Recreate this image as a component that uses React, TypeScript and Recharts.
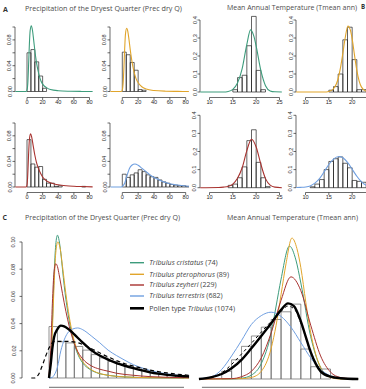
import React from 'react';
import { ComposedChart, Line, XAxis, YAxis, ReferenceArea, ReferenceLine } from 'recharts';

type Pt = [number, number];

// ---------- colours ----------
const GREEN = '#3d9c7c';
const YELLOW = '#e1a52b';
const RED = '#a8322f';
const BLUE = '#6f9fe0';
const INK = '#2b2b2b';
const TICK_FONT = '"Liberation Sans", Arial, sans-serif';
const TITLE_FONT = '"Open Sans", "Noto Sans", sans-serif';

// ---------- axis ticks ----------
const PREC_X_TICKS = [0, 20, 40, 60, 80];
const TMEAN_X_TICKS = [10, 15, 20, 25];
const TMEAN_X_TICKS_EDGE = [10, 15, 20];
const PREC_Y_TICKS = [0, 0.02, 0.04, 0.06, 0.08, 0.1];
const PREC_Y_LABELS = [0, 0.04, 0.08];
const TMEAN_Y_TICKS = [0, 0.1, 0.2, 0.3, 0.4];
const POLLEN_PREC_Y_LABELS = [0, 0.02, 0.04, 0.06, 0.08, 0.1];

// ---------- legend ----------
const SPECIES = ['cristatus', 'pterophorus', 'zeyheri', 'terrestris'];
const SPECIES_COUNTS = [74, 89, 229, 682];
const POLLEN_COUNT = 1074;

// ---------- histograms (density per bin) ----------
const PREC_BIN_WIDTH = 5;
const TMEAN_BIN_WIDTH = 1;

const cristatusPrecHistStart = 0;
const cristatusPrecHist = [0.06, 0.065, 0.046, 0.024, 0.005];
const pterophorusPrecHistStart = 0;
const pterophorusPrecHist = [0.061, 0.057, 0.045, 0.033, 0.003, 0.002];
const zeyheriPrecHistStart = 0;
const zeyheriPrecHist = [0.074, 0.036, 0.031, 0.032, 0.012, 0.006, 0.006, 0.001, 0.002, 0, 0, 0, 0, 0, 0.001];
const terrestrisPrecHistStart = 0;
const terrestrisPrecHist = [0.02, 0.015, 0.019, 0.022, 0.027, 0.024, 0.019, 0.016, 0.015, 0.011, 0.008, 0.006, 0.004, 0.003, 0.002, 0.002, 0.001];

const cristatusTmeanHistStart = 15;
const cristatusTmeanHist = [0.013, 0.08, 0.093, 0.257, 0.42, 0.12, 0.013];
const pterophorusTmeanHistStart = 15;
const pterophorusTmeanHist = [0.01, 0.03, 0.1, 0.29, 0.36, 0.18, 0.013, 0.013];
const zeyheriTmeanHistStart = 14;
const zeyheriTmeanHist = [0.013, 0.02, 0.055, 0.115, 0.26, 0.32, 0.14, 0.055, 0.006];
const terrestrisTmeanHistStart = 11;
const terrestrisTmeanHist = [0.005, 0.02, 0.045, 0.1, 0.145, 0.16, 0.17, 0.135, 0.11, 0.04, 0.035, 0.03];

const pollenPrecHistStart = 0;
const pollenPrecHist = [0.0378, 0.0266, 0.0258, 0.0232, 0.0205, 0.0172, 0.0148, 0.0122, 0.0102, 0.0088, 0.0075, 0.0055, 0.004, 0.003, 0.0022, 0.0016];
const pollenTmeanHistStart = 12;
const pollenTmeanHist = [0.02, 0.05, 0.085, 0.112, 0.135, 0.155, 0.175, 0.195, 0.078, 0.032, 0.026];

// ---------- density curves, per species ----------
const cristatusPrecCurve: Pt[] = [[-15, 0], [-1, 0], [0, 0.002], [1, 0.012], [2, 0.04], [3, 0.072], [4, 0.094], [5.5, 0.102], [7, 0.095], [8.5, 0.08], [10, 0.064], [12, 0.046], [14, 0.033], [16, 0.023], [18, 0.016], [21, 0.01], [25, 0.006], [30, 0.003], [40, 0.0012], [55, 0.0004], [70, 0.0001], [84, 0]];
const pterophorusPrecCurve: Pt[] = [[-15, 0], [-1, 0], [0, 0.002], [1, 0.012], [2, 0.036], [3, 0.066], [4, 0.089], [5.5, 0.098], [7, 0.093], [8.5, 0.08], [10, 0.065], [12, 0.048], [14, 0.035], [16, 0.025], [18, 0.018], [21, 0.012], [25, 0.007], [30, 0.0038], [40, 0.0015], [55, 0.0005], [70, 0.0002], [84, 0]];
const zeyheriPrecCurve: Pt[] = [[-15, 0], [-1, 0], [0, 0.003], [1, 0.02], [2, 0.05], [3, 0.073], [4.5, 0.083], [6, 0.078], [8, 0.064], [10, 0.05], [12, 0.039], [15, 0.028], [18, 0.02], [21, 0.014], [25, 0.0095], [30, 0.0065], [35, 0.0048], [40, 0.0035], [50, 0.002], [60, 0.0012], [70, 0.0007], [84, 0.0002]];
const terrestrisPrecCurve: Pt[] = [[-15, 0], [-1, 0], [0, 0.001], [3, 0.006], [6, 0.018], [9, 0.029], [12, 0.034], [16, 0.036], [20, 0.034], [25, 0.029], [30, 0.024], [35, 0.019], [40, 0.015], [45, 0.012], [50, 0.009], [55, 0.007], [60, 0.005], [70, 0.003], [80, 0.0015], [84, 0.001]];

const cristatusTmeanCurve: Pt[] = [[8, 0], [13, 0], [14, 0.003], [15, 0.015], [16, 0.05], [17, 0.13], [18, 0.265], [18.8, 0.345], [19.5, 0.31], [20, 0.255], [21, 0.12], [22, 0.035], [23, 0.006], [24, 0.001], [25.5, 0]];
const pterophorusTmeanCurve: Pt[] = [[8, 0], [14, 0], [15, 0.003], [16, 0.018], [17, 0.075], [17.5, 0.135], [18, 0.215], [18.5, 0.3], [19.1, 0.367], [19.6, 0.345], [20, 0.295], [20.5, 0.205], [21, 0.12], [21.5, 0.06], [22, 0.027], [23, 0.004], [24, 0], [25.5, 0]];
const zeyheriTmeanCurve: Pt[] = [[8, 0], [12, 0.001], [13, 0.003], [14, 0.007], [15, 0.02], [16, 0.052], [17, 0.11], [18, 0.205], [19, 0.268], [20, 0.225], [21, 0.13], [22, 0.05], [23, 0.014], [24, 0.003], [25.5, 0]];
const terrestrisTmeanCurve: Pt[] = [[8, 0.001], [9, 0.002], [10, 0.004], [11, 0.01], [12, 0.025], [13, 0.05], [14, 0.088], [15, 0.128], [16, 0.158], [17.2, 0.172], [18, 0.165], [19, 0.14], [20, 0.102], [21, 0.063], [22, 0.032], [23, 0.013], [24, 0.004], [25.5, 0.001]];

// ---------- combined comparison curves ----------
const cristatusPrecCurveC: Pt[] = [[0, 0.001], [1, 0.012], [2, 0.04], [3, 0.075], [4, 0.098], [5, 0.105], [6, 0.101], [7, 0.092], [8, 0.08], [9, 0.068], [10, 0.058], [12, 0.042], [14, 0.03], [16, 0.021], [18, 0.015], [20, 0.011], [24, 0.0065], [28, 0.004], [35, 0.002], [45, 0.0008], [60, 0.0002], [83, 0]];
const pterophorusPrecCurveC: Pt[] = [[0, 0.001], [1, 0.01], [2, 0.035], [3, 0.068], [4, 0.092], [5.2, 0.1], [6.5, 0.096], [8, 0.082], [10, 0.062], [12, 0.045], [14, 0.032], [16, 0.023], [18, 0.016], [20, 0.012], [24, 0.007], [28, 0.0042], [35, 0.002], [45, 0.0008], [60, 0.0002], [83, 0]];
const zeyheriPrecCurveC: Pt[] = [[0, 0.002], [1, 0.02], [2, 0.055], [3, 0.078], [4, 0.084], [5, 0.082], [6, 0.076], [8, 0.062], [10, 0.049], [12, 0.038], [14, 0.029], [16, 0.022], [20, 0.014], [25, 0.009], [30, 0.0065], [35, 0.005], [40, 0.0035], [50, 0.002], [60, 0.001], [83, 0.0002]];
const terrestrisPrecCurveC: Pt[] = [[0, 0], [2, 0.0005], [3, 0.002], [5, 0.008], [7, 0.02], [9, 0.028], [11, 0.033], [14, 0.036], [17, 0.0368], [20, 0.0355], [25, 0.031], [30, 0.026], [35, 0.0205], [40, 0.0165], [45, 0.013], [50, 0.0098], [55, 0.0075], [60, 0.0055], [70, 0.003], [83, 0.0013]];
const pollenPrecCurveC: Pt[] = [[0, 0], [1, 0.01], [2, 0.022], [3, 0.03], [5, 0.036], [7, 0.0385], [9, 0.038], [12, 0.0355], [15, 0.032], [20, 0.026], [25, 0.0205], [30, 0.0165], [35, 0.0135], [40, 0.011], [45, 0.009], [50, 0.0072], [60, 0.0041], [70, 0.0023], [80, 0.0013], [83, 0.0011]];
const pollenPrecSmoothC: Pt[] = [[-10.5, 0], [-8.5, 0], [-6.5, 0.002], [-4, 0.009], [-2, 0.016], [0, 0.022], [2, 0.026], [4, 0.027], [10, 0.027], [17, 0.026], [22, 0.0235], [26, 0.021], [30, 0.0185], [35, 0.0155], [40, 0.0128], [45, 0.0105], [50, 0.0088], [60, 0.0058], [70, 0.0037], [83, 0.002]];

const cristatusTmeanCurveC: Pt[] = [[9.7, 0], [13, 0.0003], [14, 0.002], [15, 0.01], [16, 0.04], [17, 0.12], [17.5, 0.19], [18, 0.26], [18.85, 0.346], [19.5, 0.31], [20, 0.25], [21, 0.11], [22, 0.03], [23, 0.006], [24, 0.001], [25.8, 0]];
const pterophorusTmeanCurveC: Pt[] = [[9.7, 0], [14, 0.001], [15, 0.004], [16, 0.02], [17, 0.08], [17.5, 0.14], [18, 0.22], [18.5, 0.3], [19.1, 0.367], [19.6, 0.34], [20, 0.29], [20.5, 0.2], [21, 0.12], [21.5, 0.065], [22, 0.03], [23, 0.004], [24, 0], [25.8, 0]];
const zeyheriTmeanCurveC: Pt[] = [[9.7, 0], [13, 0.001], [14, 0.006], [15, 0.02], [16, 0.055], [17, 0.12], [18, 0.205], [19, 0.266], [20, 0.23], [21, 0.14], [22, 0.06], [23, 0.018], [24, 0.004], [25, 0.001], [25.8, 0]];
const terrestrisTmeanCurveC: Pt[] = [[9.7, 0.001], [11, 0.006], [12, 0.025], [13, 0.06], [14, 0.1], [15, 0.142], [16, 0.165], [17, 0.174], [18, 0.163], [19, 0.135], [20, 0.095], [21, 0.055], [22, 0.025], [23, 0.008], [24, 0.002], [25.8, 0]];
const pollenTmeanCurveC: Pt[] = [[9.7, 0], [11, 0.005], [12, 0.013], [13, 0.028], [14, 0.05], [15, 0.08], [16, 0.112], [17, 0.145], [18, 0.18], [18.7, 0.197], [19.3, 0.19], [20, 0.15], [20.5, 0.11], [21, 0.07], [21.5, 0.04], [22, 0.02], [23, 0.006], [24, 0.002], [25.8, 0]];
const pollenTmeanSmoothC: Pt[] = [[11, 0.004], [12, 0.016], [13, 0.038], [14, 0.065], [15, 0.093], [16, 0.122], [17, 0.15], [18, 0.176], [18.7, 0.19], [19.4, 0.18], [20, 0.145], [21, 0.07], [22, 0.022], [23, 0.006], [24, 0.001]];

// ---------- panel drawing ----------
type Box = { l: number; r: number; t: number; b: number };
type Ref = [number, number, number, number]; // value0, pixel0, value1, pixel1
type Curve = { data: Pt[]; color: string; width: number; dash?: string };
type Hist = { start: number; width: number; heights: number[]; stroke: string; strokeWidth: number };

const linear = ([v0, p0, v1, p1]: Ref) => (p: number) => v0 + ((p - p0) * (v1 - v0)) / (p1 - p0);

const XTick = (p: any) => (
  <text x={p.x} y={p.y} dy="0.71em" textAnchor="middle" fontSize={5.6} fill={INK} fontFamily={TICK_FONT}>
    {p.payload.value}
  </text>
);

const makeYTick = (labels: number[], digits: number) => (p: any) => {
  const v = p.payload.value;
  if (!labels.some((l) => Math.abs(l - v) < 1e-9)) return <g />;
  return (
    <text
      x={p.x}
      y={p.y}
      transform={`rotate(-90 ${p.x} ${p.y})`}
      textAnchor="middle"
      fontSize={5.6}
      fill={INK}
      fontFamily={TICK_FONT}
    >
      {v.toFixed(digits)}
    </text>
  );
};

interface PanelProps {
  box: Box;
  xRef: Ref;
  yRef: Ref;
  xTicks: number[];
  xLabels?: boolean;
  xAxisToEdge?: boolean;
  yTicks: number[];
  yLabels: number[];
  yDigits: number;
  yLabelGap: number;
  yAxis: 'left' | 'right';
  hist: Hist;
  curves: Curve[];
}

function Panel({
  box,
  xRef,
  yRef,
  xTicks,
  xLabels = true,
  xAxisToEdge = false,
  yTicks,
  yLabels,
  yDigits,
  yLabelGap,
  yAxis,
  hist,
  curves,
}: PanelProps) {
  const fx = linear(xRef);
  const fy = linear(yRef);
  const xDomain: [number, number] = [fx(box.l), fx(box.r)];
  const yDomain: [number, number] = [fy(box.b), fy(box.t)];
  const leftW = yAxis === 'left' ? 16 : 0;
  const rightW = yAxis === 'right' ? 4 : 0;
  const XH = 12;
  const width = leftW + (box.r - box.l) + rightW;
  const height = box.b - box.t + XH;
  const bins = hist.heights
    .map((h, i) => ({ x1: hist.start + i * hist.width, x2: hist.start + (i + 1) * hist.width, h }))
    .filter((b) => b.h > 0);
  const yTop = yTicks[yTicks.length - 1];
  const axisStyle = { stroke: INK, strokeWidth: 0.7 };
  const yAxisX = yAxis === 'left' ? xDomain[0] : xDomain[1];
  const xAxisEnd = xAxisToEdge ? xDomain[1] : xTicks[xTicks.length - 1];

  return (
    <div style={{ position: 'absolute', left: box.l - leftW, top: box.t }}>
      <ComposedChart width={width} height={height} margin={{ top: 0, right: 0, bottom: 0, left: 0 }}>
        <XAxis
          type="number"
          dataKey="x"
          domain={xDomain}
          ticks={xTicks}
          allowDataOverflow
          interval={0}
          axisLine={false}
          tickLine={axisStyle}
          tickSize={2.5}
          tickMargin={0}
          height={XH}
          tick={xLabels ? XTick : false}
        />
        {yAxis === 'right' ? (
          <YAxis
            type="number"
            orientation="right"
            mirror
            domain={yDomain}
            ticks={yTicks}
            allowDataOverflow
            interval={0}
            axisLine={false}
            tickLine={axisStyle}
            tickSize={3}
            width={rightW}
            tick={false}
          />
        ) : (
          <YAxis
            type="number"
            domain={yDomain}
            ticks={yTicks}
            allowDataOverflow
            interval={0}
            axisLine={false}
            tickLine={axisStyle}
            tickSize={2.5}
            tickMargin={yLabelGap}
            width={leftW}
            tick={makeYTick(yLabels, yDigits)}
          />
        )}
        {bins.map((b, i) => (
          <ReferenceArea
            key={`bin-${i}`}
            x1={b.x1}
            x2={b.x2}
            y1={0}
            y2={b.h}
            fill="none"
            fillOpacity={0}
            stroke={hist.stroke}
            strokeWidth={hist.strokeWidth}
            ifOverflow="visible"
          />
        ))}
        <ReferenceLine
          segment={[
            { x: xTicks[0], y: yDomain[0] },
            { x: xAxisEnd, y: yDomain[0] },
          ]}
          stroke={INK}
          strokeWidth={0.7}
          ifOverflow="visible"
        />
        <ReferenceLine
          segment={[
            { x: yAxisX, y: 0 },
            { x: yAxisX, y: yTop },
          ]}
          stroke={INK}
          strokeWidth={0.7}
          ifOverflow="visible"
        />
        {curves.map((c, i) => (
          <Line
            key={`curve-${i}`}
            data={c.data.map(([x, y]) => ({ x, y }))}
            dataKey="y"
            type="monotone"
            stroke={c.color}
            strokeWidth={c.width}
            strokeDasharray={c.dash}
            dot={false}
            activeDot={false}
            isAnimationActive={false}
          />
        ))}
      </ComposedChart>
    </div>
  );
}

// ---------- layout of the small panels ----------
const precSmall = (l: number, x0: number, x80: number, row: 0 | 1) => ({
  box: row === 0 ? { l, r: l + 79, t: 21, b: 97.5 } : { l, r: l + 79, t: 117, b: 192.5 },
  xRef: [0, x0, 80, x80] as Ref,
  yRef: (row === 0 ? [0, 91.5, 0.1, 27] : [0, 187, 0.1, 123]) as Ref,
  xTicks: PREC_X_TICKS,
  yTicks: PREC_Y_TICKS,
  yLabels: PREC_Y_LABELS,
  yDigits: 2,
  yLabelGap: 1,
  yAxis: 'left' as const,
});

const tmeanSmall = (l: number, x10: number, row: 0 | 1, atEdge = false) => ({
  box: row === 0 ? { l, r: l + 84, t: 14, b: 97.5 } : { l, r: l + 84, t: 110, b: 192.5 },
  xRef: [10, x10, 25, x10 + 70] as Ref,
  yRef: (row === 0 ? [0, 92, 0.4, 20] : [0, 187.7, 0.4, 115.3]) as Ref,
  xTicks: atEdge ? TMEAN_X_TICKS_EDGE : TMEAN_X_TICKS,
  xAxisToEdge: atEdge,
  yTicks: TMEAN_Y_TICKS,
  yLabels: TMEAN_Y_TICKS,
  yDigits: 1,
  yLabelGap: 1,
  yAxis: 'left' as const,
});

const smallHist = (start: number, width: number, heights: number[]): Hist => ({
  start,
  width,
  heights,
  stroke: '#222',
  strokeWidth: 0.7,
});
const bigHist = (start: number, width: number, heights: number[]): Hist => ({
  start,
  width,
  heights,
  stroke: '#6d6d6d',
  strokeWidth: 0.75,
});

const SMALL_W = 1.1;

function Texts() {
  const legendRows = [262.7, 274.3, 285, 296, 308.3];
  const legendColors = [GREEN, YELLOW, RED, BLUE, '#000'];
  const legendLengths = [68.4, 79.7, 67.4, 73.4, 85.7];
  const titleStyle = { fontSize: 6.8, fill: '#4d4d4d', fontFamily: TITLE_FONT };
  return (
    <svg
      width={366}
      height={389}
      style={{ position: 'absolute', left: 0, top: 0, pointerEvents: 'none' }}
    >
      <text x={3} y={11.5} fontSize={7} fontWeight="bold" fill="#333" fontFamily={TITLE_FONT}>A</text>
      <text x={25} y={11.3} textLength={157} lengthAdjust="spacingAndGlyphs" {...titleStyle}>
        Precipitation of the Dryest Quarter (Prec dry Q)
      </text>
      <text x={227} y={9.5} textLength={130} lengthAdjust="spacingAndGlyphs" {...titleStyle}>
        Mean Annual Temperature (Tmean ann)
      </text>
      <text x={361} y={9} fontSize={6.2} fontWeight="bold" fill="#333" fontFamily={TITLE_FONT}>B</text>

      <text x={2.5} y={220} fontSize={7} fontWeight="bold" fill="#333" fontFamily={TITLE_FONT}>C</text>
      <text x={25} y={220} textLength={155} lengthAdjust="spacingAndGlyphs" {...titleStyle}>
        Precipitation of the Dryest Quarter (Prec dry Q)
      </text>
      <text x={227} y={220} textLength={131} lengthAdjust="spacingAndGlyphs" {...titleStyle}>
        Mean Annual Temperature (Tmean ann)
      </text>

      {legendRows.map((y, i) => (
        <g key={i}>
          <line x1={130} x2={144} y1={y} y2={y} stroke={legendColors[i]} strokeWidth={i === 4 ? 2.6 : 1.4} />
          <text
            x={149.3}
            y={y + 2.3}
            fontSize={6.3}
            fill="#444"
            fontFamily={TITLE_FONT}
            textLength={legendLengths[i]}
            lengthAdjust="spacingAndGlyphs"
          >
            {i < 4 ? (
              <>
                <tspan fontStyle="italic">{`Tribulus ${SPECIES[i]}`}</tspan>
                {` (${SPECIES_COUNTS[i]})`}
              </>
            ) : (
              <>
                {'Pollen type '}
                <tspan fontStyle="italic">Tribulus</tspan>
                {` (${POLLEN_COUNT})`}
              </>
            )}
          </text>
        </g>
      ))}
    </svg>
  );
}

export default function App() {
  return (
    <div
      style={{
        position: 'absolute',
        left: 0,
        top: 0,
        width: 366,
        height: 389,
        overflow: 'hidden',
        background: '#fff',
      }}
    >
      {/* Row 1 */}
      <Panel
        {...precSmall(15, 27, 89.5, 0)}
        hist={smallHist(cristatusPrecHistStart, PREC_BIN_WIDTH, cristatusPrecHist)}
        curves={[{ data: cristatusPrecCurve, color: GREEN, width: SMALL_W }]}
      />
      <Panel
        {...precSmall(110, 122.3, 185.7, 0)}
        hist={smallHist(pterophorusPrecHistStart, PREC_BIN_WIDTH, pterophorusPrecHist)}
        curves={[{ data: pterophorusPrecCurve, color: YELLOW, width: SMALL_W }]}
      />
      <Panel
        {...tmeanSmall(200, 209.5, 0)}
        hist={smallHist(cristatusTmeanHistStart, TMEAN_BIN_WIDTH, cristatusTmeanHist)}
        curves={[{ data: cristatusTmeanCurve, color: GREEN, width: SMALL_W }]}
      />
      <Panel
        {...tmeanSmall(296, 305.5, 0, true)}
        hist={smallHist(pterophorusTmeanHistStart, TMEAN_BIN_WIDTH, pterophorusTmeanHist)}
        curves={[{ data: pterophorusTmeanCurve, color: YELLOW, width: SMALL_W }]}
      />

      {/* Row 2 */}
      <Panel
        {...precSmall(15, 27, 89.5, 1)}
        hist={smallHist(zeyheriPrecHistStart, PREC_BIN_WIDTH, zeyheriPrecHist)}
        curves={[{ data: zeyheriPrecCurve, color: RED, width: SMALL_W }]}
      />
      <Panel
        {...precSmall(110, 122.3, 185.7, 1)}
        hist={smallHist(terrestrisPrecHistStart, PREC_BIN_WIDTH, terrestrisPrecHist)}
        curves={[{ data: terrestrisPrecCurve, color: BLUE, width: SMALL_W }]}
      />
      <Panel
        {...tmeanSmall(200, 209.5, 1)}
        hist={smallHist(zeyheriTmeanHistStart, TMEAN_BIN_WIDTH, zeyheriTmeanHist)}
        curves={[{ data: zeyheriTmeanCurve, color: RED, width: SMALL_W }]}
      />
      <Panel
        {...tmeanSmall(296, 305.5, 1, true)}
        hist={smallHist(terrestrisTmeanHistStart, TMEAN_BIN_WIDTH, terrestrisTmeanHist)}
        curves={[{ data: terrestrisTmeanCurve, color: BLUE, width: SMALL_W }]}
      />

      {/* Panel C: precipitation */}
      <Panel
        box={{ l: 22, r: 190, t: 232, b: 387.3 }}
        xRef={[0, 49, 80, 184]}
        yRef={[0, 378, 0.1, 242]}
        xTicks={PREC_X_TICKS}
        xLabels={false}
        yTicks={POLLEN_PREC_Y_LABELS}
        yLabels={POLLEN_PREC_Y_LABELS}
        yDigits={2}
        yLabelGap={4}
        yAxis="left"
        hist={bigHist(pollenPrecHistStart, PREC_BIN_WIDTH, pollenPrecHist)}
        curves={[
          { data: cristatusPrecCurveC, color: GREEN, width: 1 },
          { data: pterophorusPrecCurveC, color: YELLOW, width: 1 },
          { data: zeyheriPrecCurveC, color: RED, width: 1 },
          { data: terrestrisPrecCurveC, color: BLUE, width: 1 },
          { data: pollenPrecSmoothC, color: '#000', width: 1.2, dash: '4 3' },
          { data: pollenPrecCurveC, color: '#000', width: 2.4 },
        ]}
      />

      {/* Panel C: temperature */}
      <Panel
        box={{ l: 192, r: 364, t: 220, b: 387.3 }}
        xRef={[10, 201.7, 25, 346.7]}
        yRef={[0, 379, 0.4, 225.4]}
        xTicks={TMEAN_X_TICKS}
        xLabels={false}
        yTicks={TMEAN_Y_TICKS}
        yLabels={[]}
        yDigits={1}
        yLabelGap={1}
        yAxis="right"
        hist={bigHist(pollenTmeanHistStart, TMEAN_BIN_WIDTH, pollenTmeanHist)}
        curves={[
          { data: cristatusTmeanCurveC, color: GREEN, width: 1 },
          { data: pterophorusTmeanCurveC, color: YELLOW, width: 1 },
          { data: zeyheriTmeanCurveC, color: RED, width: 1 },
          { data: terrestrisTmeanCurveC, color: BLUE, width: 1 },
          { data: pollenTmeanSmoothC, color: '#000', width: 1, dash: '3 3' },
          { data: pollenTmeanCurveC, color: '#000', width: 2.4 },
        ]}
      />

      <Texts />
    </div>
  );
}
